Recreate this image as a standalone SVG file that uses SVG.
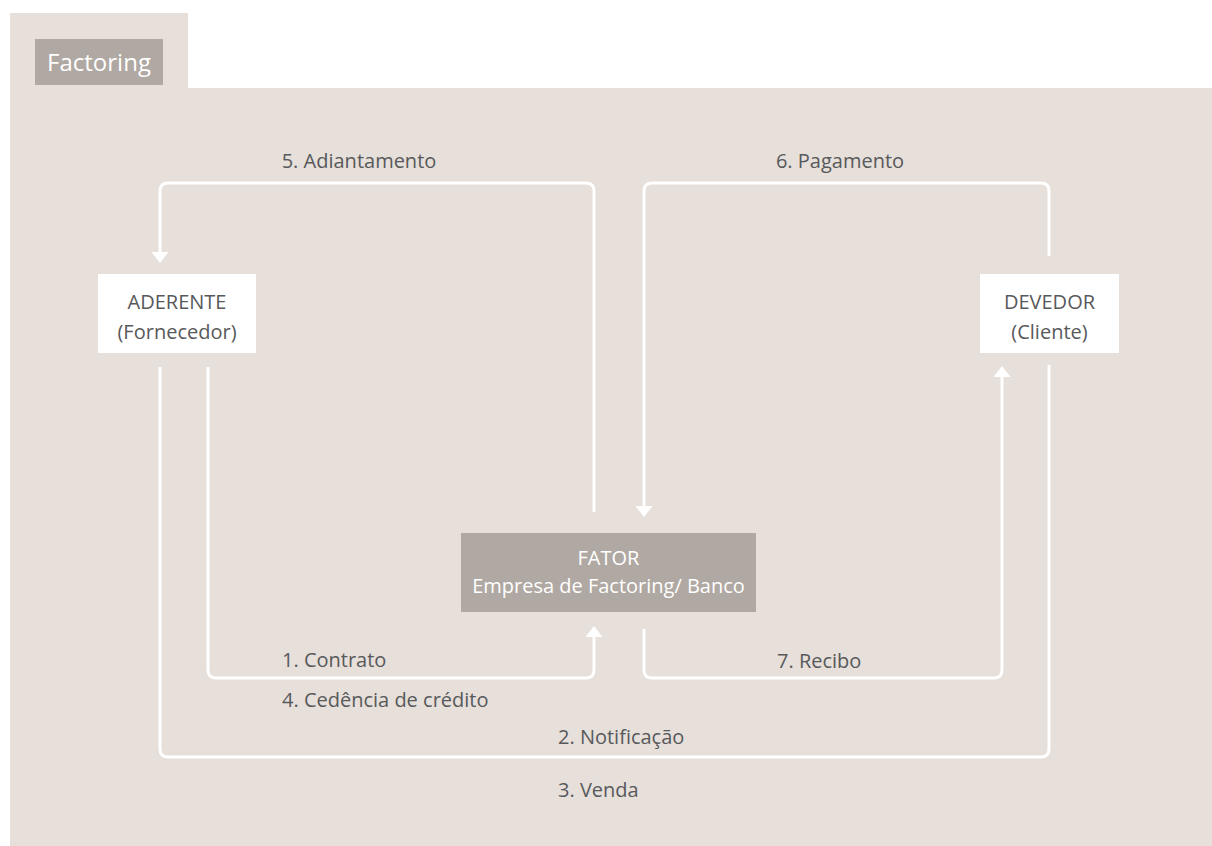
<svg xmlns="http://www.w3.org/2000/svg" width="1212" height="846" viewBox="0 0 1212 846">
  <style>
    .lbl { font-family: "Open Sans", "Liberation Sans", sans-serif; font-size: 20px; fill: #58595b; }
    .wht { font-family: "Open Sans", "Liberation Sans", sans-serif; font-size: 20px; fill: #ffffff; }
    .conn { fill: none; stroke: #ffffff; stroke-width: 3; }
  </style>
  <defs>
    <marker id="arrow" viewBox="0 0 11 17" refX="0" refY="8.5" markerWidth="11" markerHeight="17" markerUnits="userSpaceOnUse" orient="auto">
      <path d="M0,0 L11,8.5 L0,17 z" fill="#ffffff"/>
    </marker>
  </defs>
  <rect width="1212" height="846" fill="#ffffff"/>
  <g id="background">
    <rect x="10" y="13" width="178" height="80" fill="#e6dfda"/>
    <rect x="10" y="88" width="1202" height="758" fill="#e6dfda"/>
  </g>
  <g id="title">
    <rect x="35" y="39" width="128" height="46" fill="#b0a8a2"/>
    <text x="99" y="71" text-anchor="middle" class="wht" style="font-size:24px">Factoring</text>
  </g>
  <g id="connectors">
    <path class="conn" d="M594,512 V191 Q594,183 586,183 H168 Q160,183 160,191 V252" marker-end="url(#arrow)"/>
    <path class="conn" d="M1049,256 V191 Q1049,183 1041,183 H652 Q644,183 644,191 V506" marker-end="url(#arrow)"/>
    <path class="conn" d="M208,367 V670 Q208,678 216,678 H586 Q594,678 594,670 V637" marker-end="url(#arrow)"/>
    <path class="conn" d="M644,629 V670 Q644,678 652,678 H994 Q1002,678 1002,670 V377" marker-end="url(#arrow)"/>
    <path class="conn" d="M160,367 V749 Q160,757 168,757 H1041 Q1049,757 1049,749 V365"/>
    <text x="359" y="168" text-anchor="middle" class="lbl">5. Adiantamento</text>
    <text x="840" y="168" text-anchor="middle" class="lbl">6. Pagamento</text>
    <text x="282" y="667" class="lbl">1. Contrato</text>
    <text x="282" y="707" class="lbl">4. Cedência de crédito</text>
    <text x="558" y="744" class="lbl">2. Notificação</text>
    <text x="558" y="797" class="lbl">3. Venda</text>
    <text x="777" y="668" class="lbl">7. Recibo</text>
  </g>
  <g id="aderente">
    <rect x="98" y="274" width="158" height="79" fill="#ffffff"/>
    <text x="177" y="309" text-anchor="middle" class="lbl">ADERENTE</text>
    <text x="177" y="339" text-anchor="middle" class="lbl">(Fornecedor)</text>
  </g>
  <g id="devedor">
    <rect x="980" y="274" width="139" height="79" fill="#ffffff"/>
    <text x="1049.5" y="309" text-anchor="middle" class="lbl">DEVEDOR</text>
    <text x="1049.5" y="339" text-anchor="middle" class="lbl">(Cliente)</text>
  </g>
  <g id="fator">
    <rect x="461" y="533" width="295" height="79" fill="#b0a8a2"/>
    <text x="608.5" y="565" text-anchor="middle" class="wht">FATOR</text>
    <text x="608.5" y="593" text-anchor="middle" class="wht">Empresa de Factoring/ Banco</text>
  </g>
</svg>
